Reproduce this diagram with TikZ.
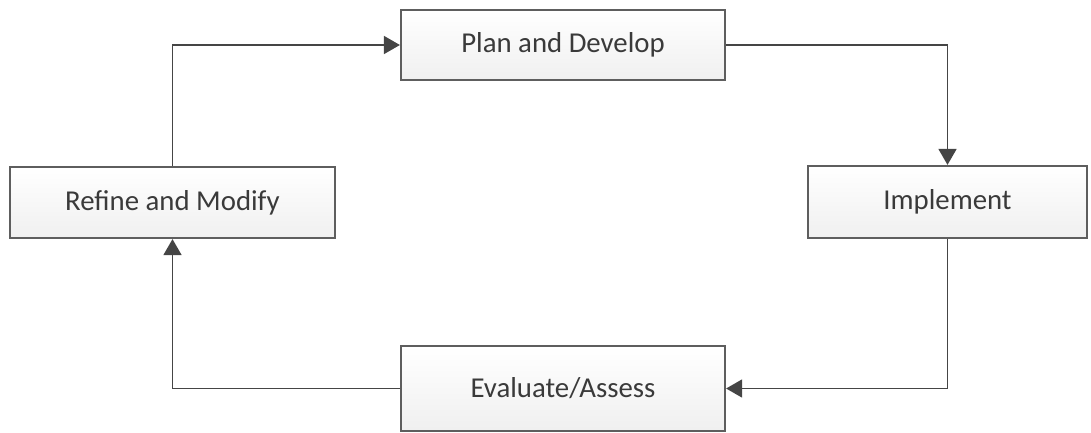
\documentclass[tikz,border=0pt]{standalone}
\usepackage{fontspec}
\setmainfont{Carlito}
\usepackage{xcolor}
\usetikzlibrary{arrows.meta, shadings}

\definecolor{boxline}{HTML}{5E5E5E}
\definecolor{wire}{HTML}{454545}
\definecolor{txt}{HTML}{3A3A3A}

\tikzset{
    stepbox/.style={draw=boxline, line width=1.1pt, top color=white, bottom color=black!6,
        text=txt, font=\fontsize{14.4}{16}\selectfont, inner sep=0pt, anchor=center},
    flow/.style={draw=wire, line width=0.8pt, -{Triangle[length=8pt, width=9pt]}}
}

\begin{document}
\begin{tikzpicture}[x=0.5pt, y=-0.5pt]
                \useasboundingbox (0,0) rectangle (1091,433);

                % the four steps of the cycle
                \node[stepbox, minimum width=162pt, minimum height=35pt] (plan) at (563, 45) {Plan and Develop};
                \node[stepbox, minimum width=139.5pt, minimum height=36pt] (impl) at (947.5, 202) {Implement};
                \node[stepbox, minimum width=162pt, minimum height=42.5pt] (eval) at (563, 388.5) {Evaluate/Assess};
                \node[stepbox, minimum width=162.5pt, minimum height=35.5pt] (refine) at (172.5, 202.5) {Refine and Modify};

                % connectors, clockwise
                \draw[flow] (refine.north) |- (plan.west);
                \draw[flow] (plan.east) -| (impl.north);
                \draw[flow] (impl.south) |- (eval.east);
                \draw[flow] (eval.west) -| (refine.south);
            \end{tikzpicture}
\end{document}
